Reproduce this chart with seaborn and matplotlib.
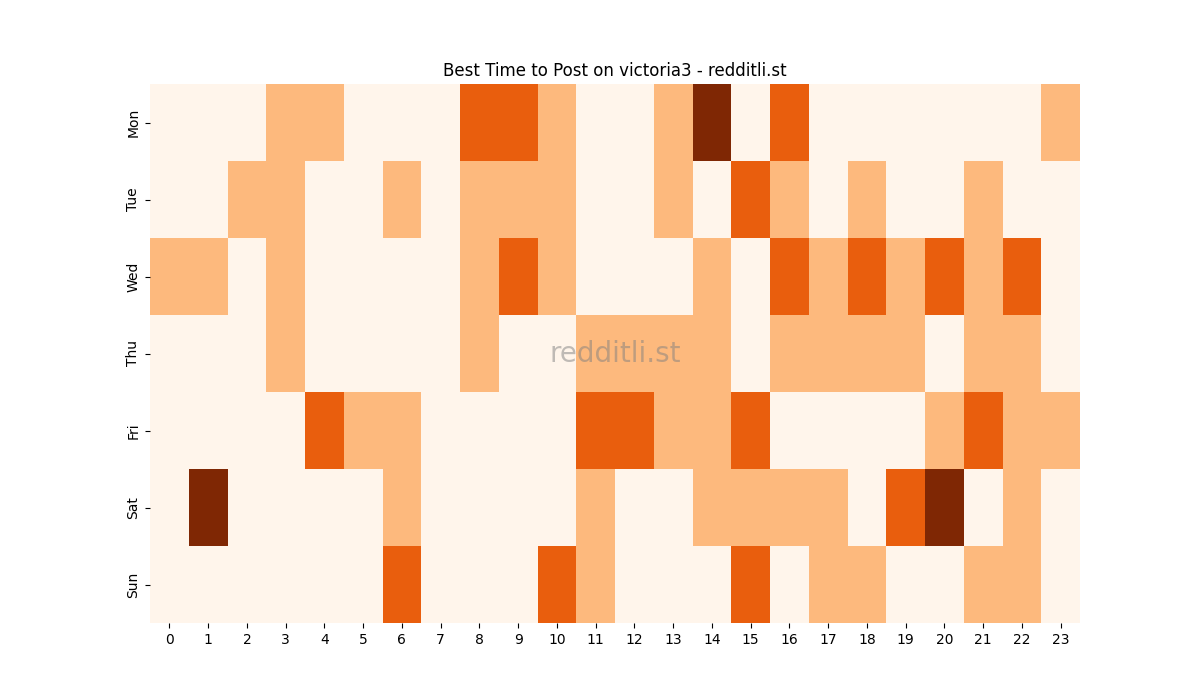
import numpy as np
import pandas as pd
import seaborn as sns
import matplotlib
matplotlib.use("Agg")
import matplotlib.pyplot as plt

days = ["Mon", "Tue", "Wed", "Thu", "Fri", "Sat", "Sun"]
hours = list(range(24))

mon = [0, 0, 0, 1, 1, 0, 0, 0, 2, 2, 1, 0, 0, 1, 3, 0, 2, 0, 0, 0, 0, 0, 0, 1]
tue = [0, 0, 1, 1, 0, 0, 1, 0, 1, 1, 1, 0, 0, 1, 0, 2, 1, 0, 1, 0, 0, 1, 0, 0]
wed = [1, 1, 0, 1, 0, 0, 0, 0, 1, 2, 1, 0, 0, 0, 1, 0, 2, 1, 2, 1, 2, 1, 2, 0]
thu = [0, 0, 0, 1, 0, 0, 0, 0, 1, 0, 0, 1, 1, 1, 1, 0, 1, 1, 1, 1, 0, 1, 1, 0]
fri = [0, 0, 0, 0, 2, 1, 1, 0, 0, 0, 0, 2, 2, 1, 1, 2, 0, 0, 0, 0, 1, 2, 1, 1]
sat = [0, 3, 0, 0, 0, 0, 1, 0, 0, 0, 0, 1, 0, 0, 1, 1, 1, 1, 0, 2, 3, 0, 1, 0]
sun = [0, 0, 0, 0, 0, 0, 2, 0, 0, 0, 2, 1, 0, 0, 0, 2, 0, 1, 1, 0, 0, 1, 1, 0]

df = pd.DataFrame([mon, tue, wed, thu, fri, sat, sun], index=days, columns=hours)

fig, ax = plt.subplots(figsize=(12, 7), dpi=100)
sns.heatmap(df, cmap="Oranges", cbar=False, ax=ax)
ax.set_title("Best Time to Post on victoria3 - redditli.st")
ax.text(0.5, 0.5, "redditli.st", transform=ax.transAxes, ha="center", va="center",
        fontsize=20, color="gray", alpha=0.5)
plt.savefig("out.png")
